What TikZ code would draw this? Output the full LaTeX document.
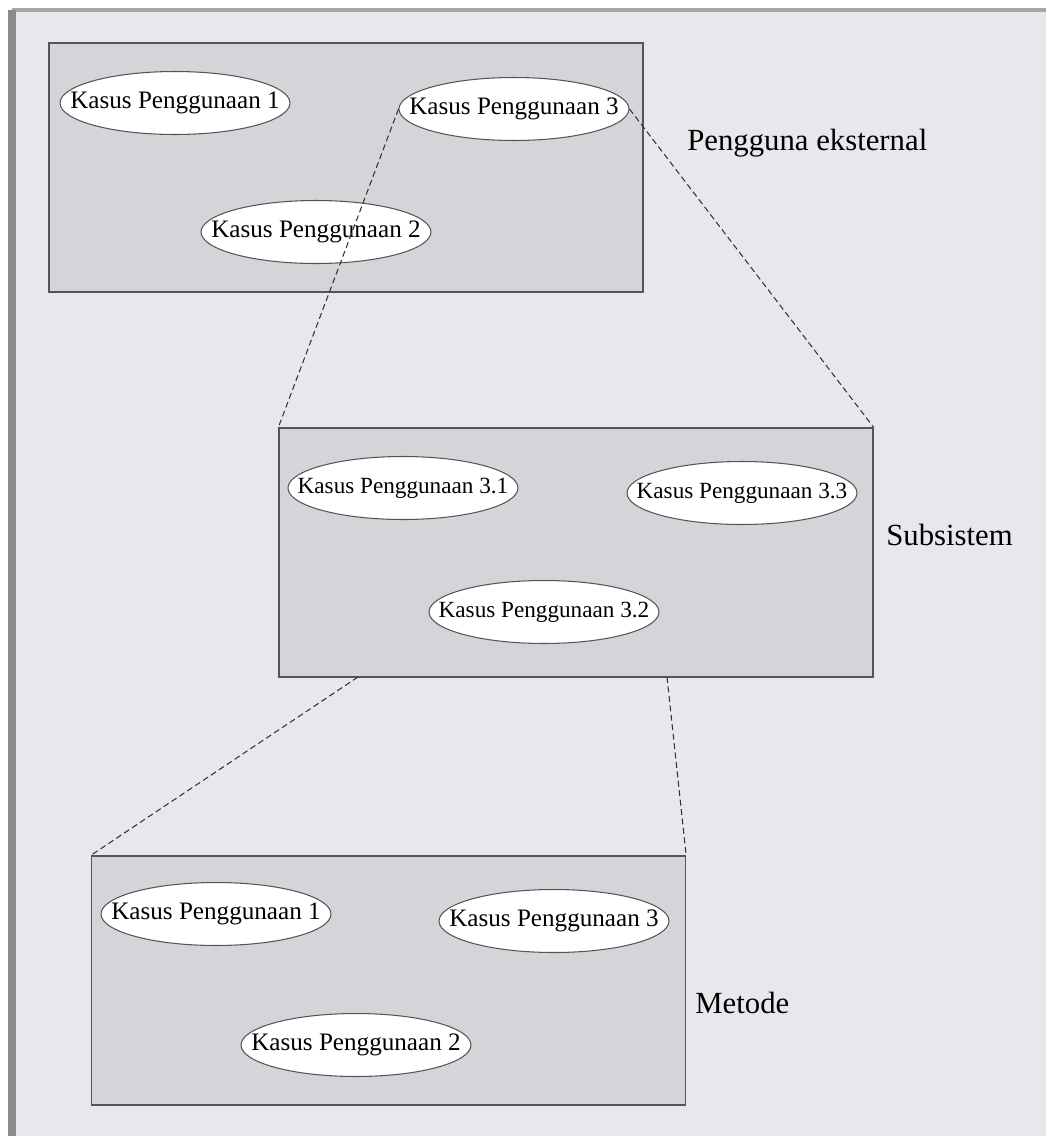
\documentclass[tikz,border=0pt]{standalone}
\usepackage{fontspec}
\setmainfont{Liberation Serif}
\usepackage{tikz}
\usetikzlibrary{
    positioning,
    shapes.geometric
}
\definecolor{latar}{RGB}{232,232,236}
\definecolor{kotakisi}{RGB}{212,213,216}
\definecolor{garis}{RGB}{85,85,85}

\begin{document}
\begin{tikzpicture}[
    x=0.02cm, y=-0.02cm,
    kotak/.style={
        rectangle,
        draw=garis,
        fill=kotakisi,
        line width=0.8pt,
        minimum width=11.88cm,
        minimum height=4.98cm,
        inner sep=0pt
    },
    kasus/.style={
        ellipse,
        draw=garis,
        fill=white,
        line width=0.6pt,
        minimum width=4.6cm,
        minimum height=1.26cm,
        inner xsep=-0.6cm,
        inner ysep=0pt,
        font=\fontsize{14.3}{16}\selectfont
    },
    subkasus/.style={
        kasus,
        font=\fontsize{13.2}{15}\selectfont
    },
    judul/.style={
        anchor=west,
        inner sep=0pt,
        font=\fontsize{17.5}{20}\selectfont
    },
    putus/.style={
        draw=black!80,
        line width=0.6pt,
        dash pattern=on 3.4pt off 2pt
    }
]

% Latar dan bingkai
\fill[white] (0,0) rectangle (1046,1136);
\fill[latar] (12,10) rectangle (1046,1136);
\fill[black!35] (12,8) rectangle (1046,12);
\fill[black!45] (8,10) rectangle (16,1136);
\useasboundingbox (0,0) rectangle (1046,1136);

% Kotak utama
\node[kotak] (eksternal) at (346,167.5) {};
\node[kotak] (subsistem) at (576,552.5) {};
\node[kotak] (metode) at (388.5,980.5) {};

% Kasus penggunaan
\node[kasus] (k1) at (175,103) {Kasus Penggunaan 1};
\node[kasus] (k3) at (514,109) {Kasus Penggunaan 3};
\node[kasus] (k2) at (316,232) {Kasus Penggunaan 2};

\node[subkasus] (k31) at (403,488) {Kasus Penggunaan 3.1};
\node[subkasus] (k33) at (742,493) {Kasus Penggunaan 3.3};
\node[subkasus] (k32) at (544,612) {Kasus Penggunaan 3.2};

\node[kasus] (m1) at (216,914) {Kasus Penggunaan 1};
\node[kasus] (m3) at (554,921) {Kasus Penggunaan 3};
\node[kasus] (m2) at (356,1045) {Kasus Penggunaan 2};

% Keterangan
\node[judul] (lbleksternal) at (687,143) {Pengguna eksternal};
\node[judul] (lblsubsistem) at (886,535) {Subsistem};
\node[judul] (lblmetode) at (695,1003) {Metode};

% Garis putus-putus
\coordinate (turunkiri) at (358,677);
\coordinate (turunkanan) at (667,677);
\draw[putus] (k3.west) -- (subsistem.north west);
\draw[putus] (k3.east) -- (subsistem.north east);
\draw[putus] (turunkiri) -- (metode.north west);
\draw[putus] (turunkanan) -- (metode.north east);

\end{tikzpicture}
\end{document}
